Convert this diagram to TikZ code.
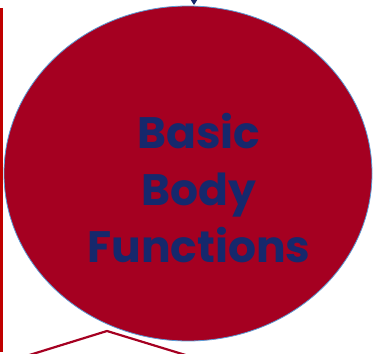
\documentclass[tikz,border=0pt]{standalone}
\usepackage{fontspec}
\setmainfont{Poppins}
\usetikzlibrary{shapes.geometric}
\definecolor{bodyred}{RGB}{165,0,33}
\definecolor{edgeblue}{RGB}{91,155,213}
\definecolor{titlenavy}{RGB}{22,40,108}
\definecolor{barred}{RGB}{192,0,0}
\tikzset{
  bubble/.style={ellipse,fill=bodyred,draw=edgeblue,line width=.8pt,
    minimum width=368pt,minimum height=335pt,inner sep=0pt},
  titletext/.style={text=titlenavy,align=center,
    font=\bfseries\fontsize{44}{57}\selectfont}
}
\begin{document}
\begin{tikzpicture}[x=1pt,y=1pt]
\path[use as bounding box] (0,0) rectangle (373,354);
% left bar
\coordinate (bartop) at (1.5,346);
\coordinate (barbot) at (1.5,2);
\draw[barred,line width=2.4pt] (bartop)--(barbot);
% tip of the arrow from above
\fill[titlenavy] (189.5,356)--(194,349)--(198.5,356)--cycle;
% the bubble
\node[bubble] (body) at (188,180.5) {};
\node[titletext] (title) at ([xshift=11pt,yshift=-15pt]body.center) {Basic\\Body\\Functions};
% chevron below
\coordinate (cleft) at (23,-3);
\coordinate (capex) at (107,23);
\coordinate (cright) at (192,-3);
\draw[bodyred,line width=2.2pt] (cleft)--(capex)--(cright);
\end{tikzpicture}
\end{document}
